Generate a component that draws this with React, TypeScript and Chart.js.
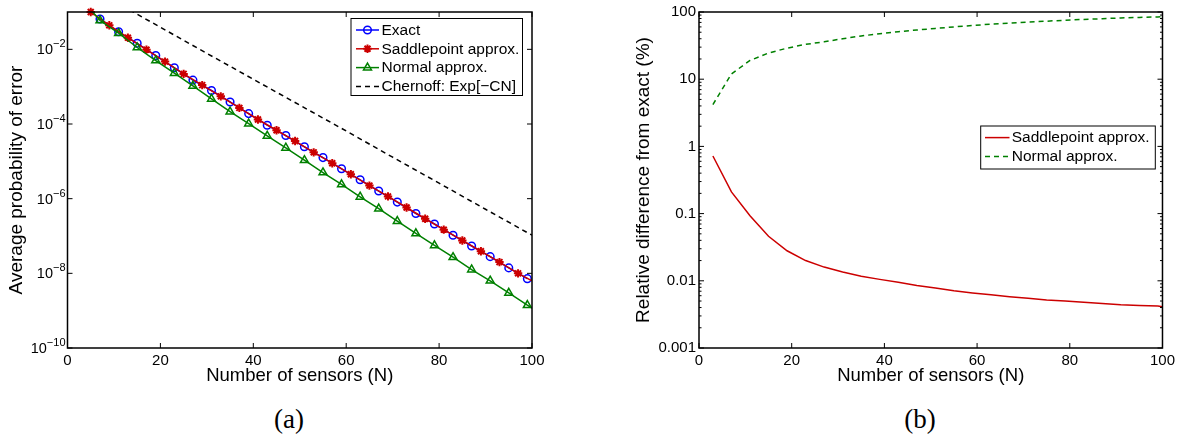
import React, { useEffect, useRef } from 'react';
import { Chart, registerables } from 'chart.js';

Chart.register(...registerables);

const FONT = 'Arial, "Liberation Sans", Helvetica, sans-serif';

// ---------- (a) Average probability of error ----------
const exactN = [7, 11, 15, 19, 23, 27, 31, 35, 39, 43, 47, 51, 55, 59, 63, 67, 71, 75, 79, 83, 87, 91, 95, 99];
const exactP = [6.5e-2, 2.95e-2, 1.45e-2, 6.8e-3, 3.2e-3, 1.5e-3, 7.9e-4, 3.9e-4, 1.9e-4, 9.3e-5, 4.9e-5, 2.45e-5,
  1.26e-5, 6.3e-6, 3.2e-6, 1.6e-6, 8.1e-7, 4.0e-7, 2.1e-7, 1.05e-7, 5.4e-8, 2.8e-8, 1.4e-8, 7.2e-9];

const saddleN = [5, 9, 13, 17, 21, 25, 29, 33, 37, 41, 45, 49, 53, 57, 61, 65, 69, 73, 77, 81, 85, 89, 93, 97, 100];
const saddleP = [1.0e-1, 4.4e-2, 2.05e-2, 9.8e-3, 4.7e-3, 2.2e-3, 1.1e-3, 5.5e-4, 2.7e-4, 1.32e-4, 6.8e-5, 3.5e-5,
  1.74e-5, 8.9e-6, 4.5e-6, 2.24e-6, 1.15e-6, 5.8e-7, 2.9e-7, 1.48e-7, 7.6e-8, 3.9e-8, 2.0e-8, 1.0e-8, 6.3e-9];
const saddleMarker = [1, 1, 1, 1, 1, 1, 1, 1, 1, 1, 1, 1, 1, 1, 1, 1, 1, 1, 1, 1, 1, 1, 1, 1, 0];

const normalN = [5, 7, 11, 15, 19, 23, 27, 31, 35, 39, 43, 47, 51, 55, 59, 63, 67, 71, 75, 79, 83, 87, 91, 95, 99, 100];
const normalP = [1.15e-1, 5.9e-2, 2.7e-2, 1.12e-2, 5.0e-3, 2.3e-3, 1.05e-3, 4.7e-4, 2.14e-4, 1.02e-4, 4.8e-5, 2.3e-5,
  1.07e-5, 5.0e-6, 2.4e-6, 1.12e-6, 5.4e-7, 2.5e-7, 1.17e-7, 5.6e-8, 2.7e-8, 1.26e-8, 6.3e-9, 3.0e-9, 1.4e-9, 1.17e-9];
const normalMarker = [0, 1, 1, 1, 1, 1, 1, 1, 1, 1, 1, 1, 1, 1, 1, 1, 1, 1, 1, 1, 1, 1, 1, 1, 1, 0];

const chernoffN = [10, 20, 30, 40, 50, 60, 70, 80, 90, 100];
const chernoffP = [1.95e-1, 3.9e-2, 7.8e-3, 1.58e-3, 3.2e-4, 6.5e-5, 1.29e-5, 2.6e-6, 5.2e-7, 1.05e-7];

const leftXTicks = [0, 20, 40, 60, 80, 100];
const leftYTicks = [1e-10, 1e-8, 1e-6, 1e-4, 1e-2];

// ---------- (b) Relative difference from exact ----------
const relN = [3, 7, 11, 15, 19, 23, 27, 31, 35, 39, 43, 47, 51, 55, 59, 63, 67, 71, 75, 79, 83, 87, 91, 95, 99, 100];
const relSaddle = [0.72, 0.21, 0.093, 0.046, 0.028, 0.020, 0.016, 0.0135, 0.0117, 0.0105, 0.0095, 0.0085, 0.0078,
  0.0071, 0.0066, 0.0062, 0.0058, 0.0055, 0.0052, 0.0050, 0.0048, 0.0046, 0.0044, 0.0043, 0.0042, 0.0041];
const relNormal = [4.2, 12, 19, 24.5, 29, 33, 36, 40, 44, 47.5, 51, 54, 57, 60, 63, 66, 68.5, 71, 73, 75.5, 77.5,
  79.5, 81.5, 83, 84.5, 85];

const rightXTicks = [0, 20, 40, 60, 80, 100];
const rightYTicks = [0.001, 0.01, 0.1, 1, 10, 100];
const rightYTickLabels = ['0.001', '0.01', '0.1', '1', '10', '100'];

const RED = '#cc0000';
const BLUE = '#0000ff';
const GREEN = '#008000';

const pts = (xs: number[], ys: number[]) => xs.map((x, i) => ({ x, y: ys[i] }));

function drawMarker(ctx: CanvasRenderingContext2D, style: string, x: number, y: number, r: number, color: string, lw: number) {
  ctx.save();
  ctx.strokeStyle = color;
  ctx.lineWidth = lw;
  ctx.setLineDash([]);
  ctx.beginPath();
  if (style === 'circle') {
    ctx.arc(x, y, r, 0, Math.PI * 2);
  } else if (style === 'triangle') {
    for (let k = 0; k < 3; k++) {
      const a = (k * 2 * Math.PI) / 3;
      const px = x + Math.sin(a) * r;
      const py = y - Math.cos(a) * r;
      if (k === 0) ctx.moveTo(px, py); else ctx.lineTo(px, py);
    }
    ctx.closePath();
  } else if (style === 'star') {
    for (let k = 0; k < 4; k++) {
      const a = (k * Math.PI) / 4;
      ctx.moveTo(x - Math.cos(a) * r, y - Math.sin(a) * r);
      ctx.lineTo(x + Math.cos(a) * r, y + Math.sin(a) * r);
    }
  }
  ctx.stroke();
  ctx.restore();
}

const framePlugin = {
  id: 'matlabFrame',
  afterDraw(chart: any, _args: any, opts: any) {
    const { ctx, chartArea: a } = chart;
    const xs = chart.scales.x;
    const ys = chart.scales.y;
    const seg = (x1: number, y1: number, x2: number, y2: number) => {
      ctx.beginPath();
      ctx.moveTo(x1, y1);
      ctx.lineTo(x2, y2);
      ctx.stroke();
    };
    ctx.save();
    ctx.strokeStyle = '#000';
    ctx.lineWidth = 1;
    ctx.setLineDash([]);
    const L = 5;
    xs.ticks.forEach((t: any) => {
      const p = xs.getPixelForValue(t.value);
      seg(p, a.bottom, p, a.bottom - L);
      seg(p, a.top, p, a.top + L);
    });
    ys.ticks.forEach((t: any) => {
      const p = ys.getPixelForValue(t.value);
      seg(a.left, p, a.left + L, p);
      seg(a.right, p, a.right - L, p);
    });
    if (opts.minor) {
      const lo = Math.round(Math.log10(ys.min));
      const hi = Math.round(Math.log10(ys.max));
      for (let e = lo; e < hi; e++) {
        for (let k = 2; k <= 9; k++) {
          const p = ys.getPixelForValue(k * Math.pow(10, e));
          seg(a.left, p, a.left + 2.5, p);
          seg(a.right, p, a.right - 2.5, p);
        }
      }
    }
    ctx.lineWidth = 1.5;
    ctx.strokeRect(a.left, a.top, a.right - a.left, a.bottom - a.top);

    if (opts.supLabels) {
      ctx.fillStyle = '#000';
      ys.ticks.forEach((t: any) => {
        const p = ys.getPixelForValue(t.value);
        const e = Math.round(Math.log10(t.value));
        const expStr = (e < 0 ? '\u2212' : '') + Math.abs(e);
        ctx.font = `11px ${FONT}`;
        const ew = ctx.measureText(expStr).width;
        const ex = a.left - 2 - ew;
        ctx.textAlign = 'left';
        ctx.textBaseline = 'middle';
        ctx.fillText(expStr, ex, p - 5);
        ctx.font = `14.5px ${FONT}`;
        ctx.textAlign = 'right';
        ctx.fillText('10', ex, p + 1);
      });
    }

    const lg = opts.legend;
    if (lg) {
      ctx.fillStyle = '#fff';
      ctx.fillRect(lg.x, lg.y, lg.w, lg.h);
      ctx.lineWidth = 1;
      ctx.strokeStyle = '#000';
      ctx.strokeRect(lg.x, lg.y, lg.w, lg.h);
      chart.data.datasets.forEach((ds: any, i: number) => {
        const cy = lg.rows[i];
        ctx.strokeStyle = ds.borderColor;
        ctx.lineWidth = ds.borderWidth;
        ctx.setLineDash(ds.borderDash || []);
        seg(lg.x1, cy, lg.x2, cy);
        ctx.setLineDash([]);
        if (ds.legendMarker) {
          drawMarker(ctx, ds.pointStyle, (lg.x1 + lg.x2) / 2, cy, ds.legendMarker, ds.borderColor, ds.pointBorderWidth);
        }
        ctx.fillStyle = '#000';
        ctx.font = `15.5px ${FONT}`;
        ctx.textAlign = 'left';
        ctx.textBaseline = 'middle';
        ctx.fillText(ds.label, lg.textX, cy + 0.5);
      });
    }
    ctx.restore();
  },
};

function markerRadii(flags: number[], r: number) {
  return flags.map((f) => (f ? r : 0));
}

export default function App() {
  const leftRef = useRef<HTMLCanvasElement>(null);
  const rightRef = useRef<HTMLCanvasElement>(null);

  useEffect(() => {
    const tickFont = { family: FONT, size: 15 };
    const left = new Chart(leftRef.current as HTMLCanvasElement, {
      type: 'line',
      data: {
        datasets: [
          {
            label: 'Exact',
            data: pts(exactN, exactP),
            borderColor: BLUE,
            borderWidth: 1.5,
            pointStyle: 'circle',
            pointRadius: 3.8,
            pointBorderWidth: 1.5,
            pointBorderColor: BLUE,
            pointBackgroundColor: 'rgba(0,0,0,0)',
            order: 4,
            clip: 0,
            legendMarker: 3.8,
          } as any,
          {
            label: 'Saddlepoint approx.',
            data: pts(saddleN, saddleP),
            borderColor: RED,
            borderWidth: 1.5,
            pointStyle: 'star',
            pointRadius: markerRadii(saddleMarker, 4.2),
            pointBorderWidth: 2,
            pointBorderColor: RED,
            pointBackgroundColor: RED,
            order: 3,
            clip: { left: 0, top: 8, right: 0, bottom: 0 },
            legendMarker: 4.2,
          } as any,
          {
            label: 'Normal approx.',
            data: pts(normalN, normalP),
            borderColor: GREEN,
            borderWidth: 1.5,
            pointStyle: 'triangle',
            pointRadius: markerRadii(normalMarker, 4.6),
            pointBorderWidth: 1.5,
            pointBorderColor: GREEN,
            pointBackgroundColor: 'rgba(0,0,0,0)',
            order: 2,
            clip: 0,
            legendMarker: 4.6,
          } as any,
          {
            label: 'Chernoff: Exp[\u2212CN]',
            data: pts(chernoffN, chernoffP),
            borderColor: '#000',
            borderWidth: 1.5,
            borderDash: [5, 4],
            pointRadius: 0,
            order: 1,
            clip: 0,
          } as any,
        ],
      },
      options: {
        animation: false,
        responsive: false,
        maintainAspectRatio: false,
        events: [],
        layout: { padding: { left: 0, right: 28, top: 12, bottom: 0 } },
        elements: { line: { tension: 0 } },
        plugins: {
          legend: { display: false },
          tooltip: { enabled: false },
          matlabFrame: {
            supLabels: true,
            legend: { x: 351, y: 18.5, w: 171.5, h: 77, rows: [30, 48.8, 67.6, 86.4], x1: 356, x2: 379, textX: 381.5 },
          },
        } as any,
        scales: {
          x: {
            type: 'linear',
            min: 0,
            max: 100,
            afterBuildTicks: (s: any) => { s.ticks = leftXTicks.map((v) => ({ value: v })); },
            afterFit: (s: any) => { s.height = 52; },
            grid: { display: false, drawTicks: false },
            border: { display: false },
            ticks: { font: tickFont, color: '#000', padding: 4, maxRotation: 0 },
            title: { display: true, text: 'Number of sensors (N)', color: '#000', font: { family: FONT, size: 18.5 }, padding: { top: 0, bottom: 13.4 } },
          },
          y: {
            type: 'logarithmic',
            min: 1e-10,
            max: 1e-1,
            afterBuildTicks: (s: any) => { s.ticks = leftYTicks.map((v) => ({ value: v })); },
            afterFit: (s: any) => { s.width = 67.5; },
            grid: { display: false, drawTicks: false },
            border: { display: false },
            ticks: { display: false },
            title: { display: true, text: 'Average probability of error', color: '#000', font: { family: FONT, size: 19 }, padding: { top: 5.6, bottom: 0 } },
          },
        },
      },
      plugins: [framePlugin as any],
    });

    const right = new Chart(rightRef.current as HTMLCanvasElement, {
      type: 'line',
      data: {
        datasets: [
          {
            label: 'Saddlepoint approx.',
            data: pts(relN, relSaddle),
            borderColor: RED,
            borderWidth: 1.5,
            pointRadius: 0,
            clip: 0,
          } as any,
          {
            label: 'Normal approx.',
            data: pts(relN, relNormal),
            borderColor: GREEN,
            borderWidth: 1.5,
            borderDash: [5, 4],
            pointRadius: 0,
            clip: 0,
          } as any,
        ],
      },
      options: {
        animation: false,
        responsive: false,
        maintainAspectRatio: false,
        events: [],
        layout: { padding: { left: 0, right: 16.3, top: 12, bottom: 0 } },
        elements: { line: { tension: 0 } },
        plugins: {
          legend: { display: false },
          tooltip: { enabled: false },
          matlabFrame: {
            minor: true,
            legend: { x: 400.7, y: 126, w: 174.6, h: 43, rows: [137.6, 156.4], x1: 405, x2: 429.5, textX: 431.7 },
          },
        } as any,
        scales: {
          x: {
            type: 'linear',
            min: 0,
            max: 100,
            afterBuildTicks: (s: any) => { s.ticks = rightXTicks.map((v) => ({ value: v })); },
            afterFit: (s: any) => { s.height = 52; },
            grid: { display: false, drawTicks: false },
            border: { display: false },
            ticks: { font: tickFont, color: '#000', padding: 4, maxRotation: 0 },
            title: { display: true, text: 'Number of sensors (N)', color: '#000', font: { family: FONT, size: 18.5 }, padding: { top: 0, bottom: 13.4 } },
          },
          y: {
            type: 'logarithmic',
            min: 0.001,
            max: 100,
            afterBuildTicks: (s: any) => { s.ticks = rightYTicks.map((v) => ({ value: v })); },
            afterFit: (s: any) => { s.width = 119; },
            grid: { display: false, drawTicks: false },
            border: { display: false },
            ticks: {
              font: tickFont,
              color: '#000',
              padding: 3,
              callback: (_v: any, i: number) => rightYTickLabels[i],
            },
            title: { display: true, text: 'Relative difference from exact (%)', color: '#000', font: { family: FONT, size: 19 }, padding: { top: 51.9, bottom: 0 } },
          },
        },
      },
      plugins: [framePlugin as any],
    });

    return () => {
      left.destroy();
      right.destroy();
    };
  }, []);

  const capStyle: React.CSSProperties = {
    position: 'absolute',
    width: 100,
    textAlign: 'center',
    fontFamily: '"Liberation Serif", "Times New Roman", Times, serif',
    fontSize: 27,
    lineHeight: '27px',
    color: '#000',
  };

  return (
    <div style={{ position: 'absolute', left: 0, top: 0, width: 1179, height: 435, background: '#fff', overflow: 'hidden' }}>
      <canvas ref={leftRef} width={560} height={400} style={{ position: 'absolute', left: 0, top: 0, width: 560, height: 400 }} />
      <canvas ref={rightRef} width={599} height={400} style={{ position: 'absolute', left: 580, top: 0, width: 599, height: 400 }} />
      <div style={{ ...capStyle, left: 239, top: 406 }}>(a)</div>
      <div style={{ ...capStyle, left: 870, top: 406 }}>(b)</div>
    </div>
  );
}
